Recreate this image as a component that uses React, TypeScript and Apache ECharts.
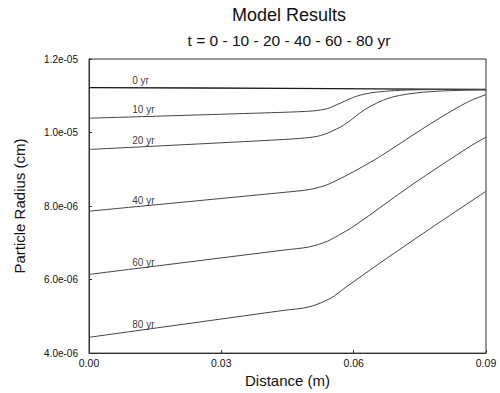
import React, { useEffect, useRef } from "react";
import * as echarts from "echarts";

// Distance (m) / particle radius (cm) pairs
const yr0: [number, number][] = [
  [0, 1.122e-5], [0.045, 1.12e-5], [0.09, 1.117e-5],
];
const yr10: [number, number][] = [
  [0, 1.039e-5], [0.044, 1.055e-5], [0.051, 1.059e-5], [0.054, 1.065e-5],
  [0.057, 1.08e-5], [0.06, 1.096e-5], [0.063, 1.106e-5], [0.067, 1.112e-5],
  [0.072, 1.1155e-5], [0.08, 1.117e-5], [0.09, 1.117e-5],
];
const yr20: [number, number][] = [
  [0, 9.54e-6], [0.044, 9.81e-6], [0.051, 9.88e-6], [0.054, 9.98e-6],
  [0.058, 1.022e-5], [0.0626, 1.063e-5], [0.0678, 1.093e-5], [0.073, 1.106e-5],
  [0.0785, 1.112e-5], [0.085, 1.115e-5], [0.09, 1.116e-5],
];
const yr40: [number, number][] = [
  [0, 7.86e-6], [0.044, 8.37e-6], [0.05, 8.45e-6], [0.054, 8.58e-6],
  [0.058, 8.81e-6], [0.062, 9.07e-6], [0.0656, 9.32e-6], [0.0785, 1.032e-5],
  [0.086, 1.084e-5], [0.09, 1.103e-5],
];
const yr60: [number, number][] = [
  [0, 6.14e-6], [0.044, 6.8e-6], [0.05, 6.89e-6], [0.054, 7.04e-6],
  [0.0565, 7.2e-6], [0.0604, 7.48e-6], [0.073, 8.56e-6], [0.0866, 9.64e-6],
  [0.09, 9.87e-6],
];
const yr80: [number, number][] = [
  [0, 4.43e-6], [0.044, 5.16e-6], [0.05, 5.26e-6], [0.0549, 5.5e-6],
  [0.0581, 5.78e-6], [0.0656, 6.42e-6], [0.073, 7.03e-6], [0.0785, 7.48e-6],
  [0.09, 8.4e-6],
];

const seriesNames = ["0 yr", "10 yr", "20 yr", "40 yr", "60 yr", "80 yr"];
const seriesData = [yr0, yr10, yr20, yr40, yr60, yr80];
const labelDistance = 0.0098; // where the curve labels sit along x

const xTicks = [0, 0.03, 0.06, 0.09];
const yTicks = [4e-6, 6e-6, 8e-6, 1e-5, 1.2e-5];

const FONT = "Liberation Sans, Arial, sans-serif";

function interp(pts: [number, number][], d: number): number {
  for (let i = 0; i < pts.length - 1; i++) {
    const [x0, y0] = pts[i];
    const [x1, y1] = pts[i + 1];
    if (d >= x0 && d <= x1) return y0 + ((d - x0) / (x1 - x0)) * (y1 - y0);
  }
  return pts[pts.length - 1][1];
}

function fmtExp(v: number): string {
  const [m, e] = v.toExponential(1).split("e");
  const sign = e[0] === "-" ? "-" : "+";
  const digits = e.replace(/^[-+]/, "").padStart(2, "0");
  return `${m}e${sign}${digits}`;
}

export default function App() {
  const ref = useRef<HTMLDivElement>(null);

  useEffect(() => {
    if (!ref.current) return;
    const chart = echarts.init(ref.current, undefined, { renderer: "svg" });

    const lineSeries = seriesData.map((pts, i) => ({
      type: "line",
      name: seriesNames[i],
      data: pts,
      showSymbol: false,
      smooth: 0.3,
      lineStyle: { color: i === 0 ? "#1a1a1a" : "#444", width: i === 0 ? 1.4 : 1 },
      silent: true,
      z: 3,
    }));

    const labelSeries = {
      type: "scatter",
      symbolSize: 0,
      silent: true,
      data: seriesData.map((pts, i) => ({
        name: seriesNames[i],
        value: [labelDistance, interp(pts, labelDistance)],
      })),
      label: {
        show: true,
        position: "top",
        align: "left",
        distance: 2,
        formatter: (p: any) => p.name,
        fontFamily: FONT,
        fontSize: 10,
        color: "#000",
      },
      z: 4,
    };

    chart.setOption({
      animation: false,
      backgroundColor: "#ffffff",
      title: [
        {
          text: "Model Results",
          left: 289,
          top: 6,
          padding: 0,
          textAlign: "center",
          textStyle: { fontFamily: FONT, fontSize: 18, fontWeight: "normal", color: "#111" },
        },
        {
          text: "t = 0 - 10 - 20 - 40 - 60 - 80 yr",
          left: 289,
          top: 32,
          padding: 0,
          textAlign: "center",
          textStyle: { fontFamily: FONT, fontSize: 15.5, fontWeight: "normal", color: "#111" },
        },
      ],
      grid: {
        left: 89,
        right: 14,
        top: 59,
        bottom: 32,
        show: true,
        borderColor: "#333",
        borderWidth: 1,
        backgroundColor: "transparent",
      },
      xAxis: {
        type: "value",
        min: xTicks[0],
        max: xTicks[xTicks.length - 1],
        interval: 0.03,
        name: "Distance (m)",
        nameLocation: "middle",
        nameGap: 17,
        nameTextStyle: { fontFamily: FONT, fontSize: 15, color: "#111" },
        axisLine: { show: true, lineStyle: { color: "#333", width: 1 } },
        axisTick: { show: true, inside: true, length: 3, lineStyle: { color: "#333" } },
        splitLine: { show: false },
        axisLabel: {
          fontFamily: FONT,
          fontSize: 10.5,
          color: "#111",
          margin: 4,
          formatter: (v: number) => v.toFixed(2),
        },
      },
      yAxis: {
        type: "value",
        min: yTicks[0],
        max: yTicks[yTicks.length - 1],
        interval: 2e-6,
        name: "Particle Radius (cm)",
        nameLocation: "middle",
        nameGap: 62,
        nameTextStyle: { fontFamily: FONT, fontSize: 15, color: "#111" },
        axisLine: { show: true, lineStyle: { color: "#333", width: 1 } },
        axisTick: { show: true, inside: true, length: 3, lineStyle: { color: "#333" } },
        splitLine: { show: false },
        axisLabel: {
          fontFamily: FONT,
          fontSize: 10,
          color: "#111",
          margin: 11,
          formatter: (v: number) => fmtExp(v),
        },
      },
      series: [...lineSeries, labelSeries],
    });

    return () => chart.dispose();
  }, []);

  return (
    <div
      ref={ref}
      style={{ position: "fixed", left: 0, top: 0, width: 500, height: 393, background: "#fff" }}
    />
  );
}
